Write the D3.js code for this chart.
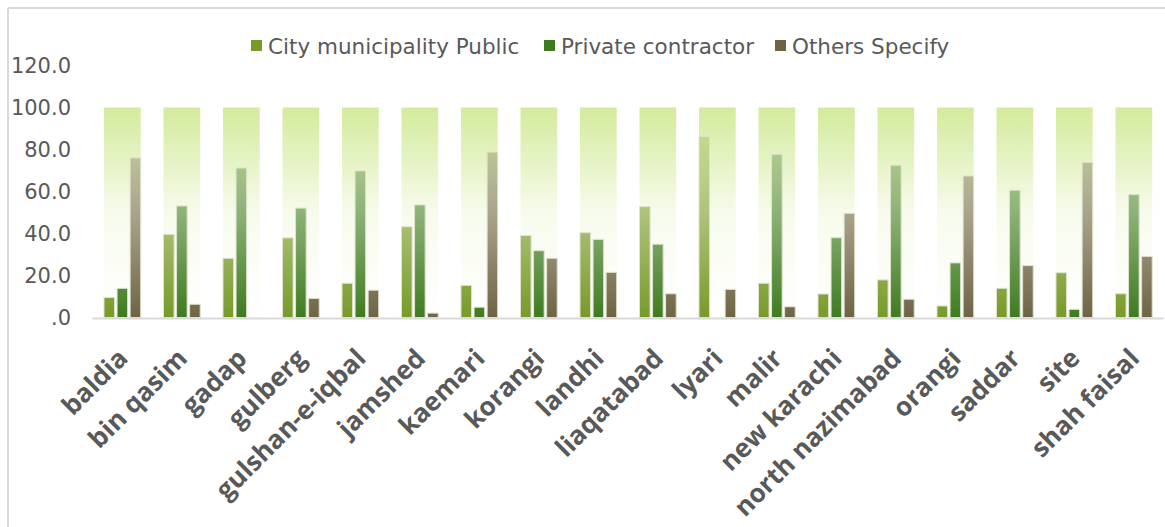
<!DOCTYPE html>
<html>
<head>
<meta charset="utf-8">
<script src="https://cdn.jsdelivr.net/npm/d3@7"></script>
<style>
  body { margin: 0; background: #fff; }
  text { font-family: "DejaVu Sans", sans-serif; fill: #595959; }
  .xlab { font-family: "Open Sans", sans-serif; }
</style>
</head>
<body>
<script>
// data
var categories = ['baldia', 'bin qasim', 'gadap', 'gulberg', 'gulshan-e-iqbal', 'jamshed',
    'kaemari', 'korangi', 'landhi', 'liaqatabad', 'lyari', 'malir', 'new karachi',
    'north nazimabad', 'orangi', 'saddar', 'site', 'shah faisal'];

var seriesNames = ['City municipality Public', 'Private contractor', 'Others Specify'];

var cityPublic = [9.5, 39.6, 28.2, 37.9, 16.3, 43.2, 15.3, 39.0, 40.4, 52.8, 86.1, 16.3, 11.2, 17.9, 5.5, 13.9, 21.3, 11.3];
var privateContractor = [13.9, 53.1, 71.2, 52.1, 69.8, 53.6, 4.9, 31.8, 37.2, 34.9, 0, 77.7, 38.0, 72.5, 26.0, 60.6, 3.9, 58.5];
var othersSpecify = [76.0, 6.3, 0, 9.1, 13.0, 2.1, 78.8, 28.2, 21.5, 11.3, 13.4, 5.1, 49.6, 8.7, 67.4, 24.7, 73.9, 29.1];

// the pale green backdrop column behind every group
var backdrop = [100, 100, 100, 100, 100, 100, 100, 100, 100, 100, 100, 100, 100, 100, 100, 100, 100, 100];

var yTicks = [0, 20, 40, 60, 80, 100, 120];

var colors = ['#779a28', '#3e7b1f', '#6e6444'];

var width = 1165;
var height = 527;

var svg = d3.select('body').append('svg')
    .attr('width', width)
    .attr('height', height);

var defs = svg.append('defs');

var x = d3.scaleBand()
    .domain(categories)
    .range([92.6, 1163.6])
    .paddingInner(0.383)
    .paddingOuter(0.1915);

var xSub = d3.scaleBand()
    .domain(seriesNames)
    .range([0, x.bandwidth()])
    .paddingInner(0.19);

var y = d3.scaleLinear()
    .domain([0, 120])
    .range([317.5, 65.5]);

// chart frame (only top and left edges show)
svg.append('line')
    .attr('x1', 8).attr('x2', width)
    .attr('y1', 8).attr('y2', 8)
    .attr('stroke', '#d9d9d9').attr('stroke-width', 2);
svg.append('line')
    .attr('x1', 8).attr('x2', 8)
    .attr('y1', 8).attr('y2', height)
    .attr('stroke', '#d9d9d9').attr('stroke-width', 2);

// gradients
var bg = defs.append('linearGradient')
    .attr('id', 'bgGrad')
    .attr('gradientUnits', 'userSpaceOnUse')
    .attr('x1', 0).attr('x2', 0)
    .attr('y1', y(100)).attr('y2', y(0));
bg.append('stop').attr('offset', 0).attr('stop-color', '#d3eb9c');
bg.append('stop').attr('offset', 0.5).attr('stop-color', '#f7fbec');
bg.append('stop').attr('offset', 1).attr('stop-color', '#ffffff');

colors.forEach(function(c, i) {
    var gr = defs.append('linearGradient')
        .attr('id', 'barGrad' + i)
        .attr('gradientUnits', 'userSpaceOnUse')
        .attr('x1', 0).attr('x2', 0)
        .attr('y1', y(0)).attr('y2', y(100));
    gr.append('stop').attr('offset', 0).attr('stop-color', c).attr('stop-opacity', 1);
    gr.append('stop').attr('offset', 1).attr('stop-color', c).attr('stop-opacity', 0.15);
});

// backdrop columns
svg.append('g').selectAll('rect')
    .data(backdrop)
    .enter().append('rect')
    .attr('x', function(d, i) { return x(categories[i]); })
    .attr('y', function(d) { return y(d); })
    .attr('width', x.bandwidth())
    .attr('height', function(d) { return y(0) - y(d); })
    .attr('fill', 'url(#bgGrad)');

// bars
var allSeries = [cityPublic, privateContractor, othersSpecify];

allSeries.forEach(function(values, s) {
    var rows = values.map(function(v, i) { return { cat: categories[i], v: v }; })
        .filter(function(r) { return r.v > 0; });
    svg.append('g').selectAll('rect')
        .data(rows)
        .enter().append('rect')
        .attr('x', function(d) { return x(d.cat) + xSub(seriesNames[s]); })
        .attr('y', function(d) { return y(d.v); })
        .attr('width', xSub.bandwidth())
        .attr('height', function(d) { return y(0) - y(d.v); })
        .attr('fill', 'url(#barGrad' + s + ')')
        .attr('stroke', '#dfe2cf')
        .attr('stroke-width', 1);
});

// baseline
svg.append('line')
    .attr('x1', 92.6).attr('x2', 1163.6)
    .attr('y1', y(0) + 1).attr('y2', y(0) + 1)
    .attr('stroke', '#d9d9d9')
    .attr('stroke-width', 2);

// y labels
var fmt = function(v) {
    var s = d3.format('.1f')(v);
    return s.indexOf('0.') === 0 ? s.slice(1) : s;
};
svg.append('g').selectAll('text')
    .data(yTicks)
    .enter().append('text')
    .attr('x', 71)
    .attr('y', function(d) { return y(d); })
    .attr('dy', '0.35em')
    .attr('text-anchor', 'end')
    .style('font-size', '21px')
    .text(fmt);

// x labels
svg.append('g').selectAll('text')
    .data(categories)
    .enter().append('text')
    .attr('class', 'xlab')
    .attr('text-anchor', 'end')
    .attr('transform', function(d) {
        return 'translate(' + (x(d) + x.bandwidth() / 2 + 7) + ',360) rotate(-45)';
    })
    .style('font-size', '26px')
    .style('font-weight', 'bold')
    .text(function(d) { return d; });

// legend
var legendX = [251, 544, 775];
var legend = svg.append('g');
seriesNames.forEach(function(name, i) {
    legend.append('rect')
        .attr('x', legendX[i])
        .attr('y', 40)
        .attr('width', 11)
        .attr('height', 11)
        .attr('fill', colors[i]);
    legend.append('text')
        .attr('x', legendX[i] + 17)
        .attr('y', 46)
        .attr('dy', '0.35em')
        .style('font-size', '21.5px')
        .text(name);
});
</script>
</body>
</html>
